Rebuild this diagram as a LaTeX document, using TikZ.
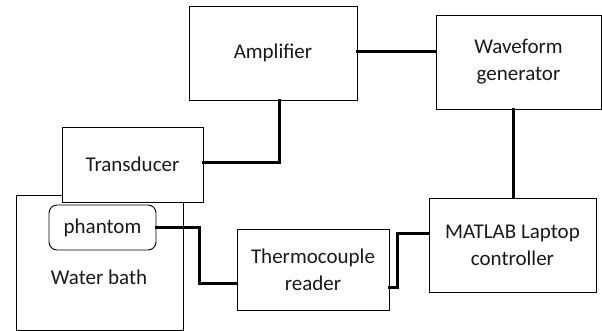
\documentclass[tikz,border=0pt]{standalone}
\usepackage{fontspec}
\setmainfont{Carlito}
\begin{document}
\begin{tikzpicture}[x=1pt,y=-1pt,
  box/.style={draw=black,line width=0.9pt,fill=white,inner sep=0pt,align=center,
    font=\fontsize{21}{27}\selectfont,text=black!90},
  lbl/.style={inner sep=0pt,font=\fontsize{21}{27}\selectfont,text=black!90},
  wire/.style={line width=3pt,line cap=rect}]
\useasboundingbox (0,0) rectangle (602,331);
\node[box,minimum width=168pt,minimum height=94pt] (amp) at (273,53) {Amplifier};
\node[box,minimum width=165pt,minimum height=94pt] (wave) at (518.5,62) {Waveform\\generator};
\node[box,minimum width=167pt,minimum height=135pt] (bath) at (99.5,262.5) {};
\node[box,minimum width=141pt,minimum height=75pt] (trans) at (132.5,164.5) {Transducer};
\node[box,rounded corners=8pt,minimum width=107pt,minimum height=45pt] (ph) at (102.5,227.5) {phantom};
\node[lbl] (bathlbl) at (99,277) {Water bath};
\node[box,minimum width=152pt,minimum height=81pt] (th) at (313,269.5) {Thermocouple\\reader};
\node[box,minimum width=167pt,minimum height=94pt] (ml) at (512.5,245) {MATLAB Laptop\\controller};
\draw[wire] (amp.east |- 0,52) -- (wave.west |- 0,52);
\draw[wire] ([xshift=6pt]amp.south) |- ([yshift=1.5pt]trans.east);
\draw[wire] (ph.east) -- ++(43,0) |- ([yshift=-13.5pt]th.west);
\draw[wire] ([yshift=-17.5pt]th.east) -- ++(8,0) |- ([yshift=12pt]ml.west);
\draw[wire] ([xshift=-5.5pt]wave.south) -- ([xshift=-5.5pt]wave.south |- ml.north);
\end{tikzpicture}
\end{document}
